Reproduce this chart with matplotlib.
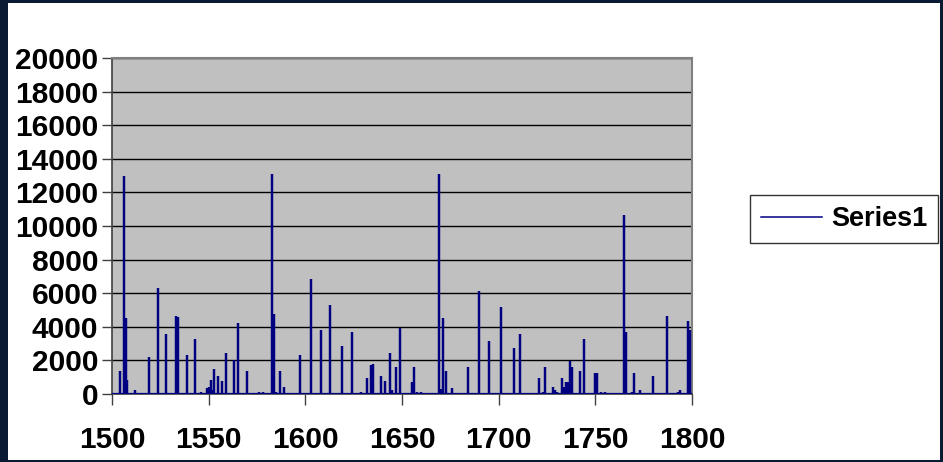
import numpy as np
import matplotlib
matplotlib.use("Agg")
import matplotlib.pyplot as plt
from matplotlib.patches import Rectangle

# Yearly counts; years not listed are zero
start_year, end_year = 1500, 1800
event_years = [
    1504, 1506, 1507, 1508, 1512, 1519, 1524, 1528, 1533, 1534, 1539, 1543,
    1546, 1549, 1550, 1551, 1552, 1553, 1555, 1557, 1559, 1563, 1565, 1570,
    1576, 1578, 1583, 1584, 1585, 1587, 1589, 1597, 1603, 1608, 1613, 1619,
    1624, 1629, 1632, 1634, 1635, 1639, 1641, 1644, 1645, 1647, 1649, 1655,
    1656, 1658, 1660, 1669, 1670, 1671, 1673, 1676, 1684, 1690, 1695, 1701,
    1708, 1711, 1721, 1723, 1724, 1728, 1729, 1730, 1733, 1734, 1735, 1736,
    1737, 1738, 1742, 1744, 1750, 1751, 1753, 1755, 1765, 1766, 1769, 1770,
    1773, 1780, 1787, 1793, 1794, 1798, 1799,
]
event_values = [
    1350, 13000, 4500, 830, 260, 2180, 6280, 3560, 4650, 4600, 2340, 3290,
    140, 360, 400, 830, 240, 1490, 1090, 790, 2450, 2020, 4220, 1350,
    140, 140, 13100, 4750, 140, 1350, 400, 2320, 6830, 3800, 5300, 2870,
    3680, 140, 950, 1740, 1780, 1090, 790, 2450, 240, 1620, 3930, 700,
    1620, 140, 140, 13100, 300, 4500, 1350, 360, 1620, 6140, 3130, 5190,
    2730, 3560, 950, 140, 1620, 440, 240, 140, 950, 400, 690, 700,
    1980, 1580, 1350, 3270, 1230, 1230, 140, 140, 10650, 3680, 140, 1230,
    240, 1090, 4650, 140, 240, 4350, 3820,
]

# One continuous trace along the baseline that rises to each yearly value
trace_x = [start_year]
trace_y = [0]
for yr, val in zip(event_years, event_values):
    trace_x += [yr, yr, yr]
    trace_y += [0, val, 0]
trace_x.append(end_year)
trace_y.append(0)

y_ticks = np.arange(0, 20001, 2000)
x_ticks = np.arange(start_year, end_year + 1, 50)

plt.rcParams["font.family"] = ["Liberation Sans", "DejaVu Sans"]
FS = 21.5

fig = plt.figure(figsize=(9.43, 4.62), dpi=100)
fig.patch.set_facecolor("white")

ax = fig.add_axes([112 / 943, 68 / 462, 580 / 943, 336 / 462])
ax.set_facecolor("#c0c0c0")
ax.plot(trace_x, trace_y, color="#000080", lw=1.6, label="Series1", zorder=3,
        solid_joinstyle="miter")

ax.set_xlim(start_year, end_year)
ax.set_ylim(0, 20000)
ax.set_yticks(y_ticks)
ax.set_xticks(x_ticks)
ax.set_yticklabels([str(t) for t in y_ticks], fontsize=FS, fontweight="bold")
ax.set_xticklabels([str(t) for t in x_ticks], fontsize=FS, fontweight="bold")
ax.tick_params(axis="y", direction="out", length=7, width=1, pad=3, colors="#404040",
               labelcolor="black")
ax.tick_params(axis="x", direction="out", length=8, width=1, pad=15, colors="#404040",
               labelcolor="black")
ax.grid(axis="y", color="black", lw=1)
ax.set_axisbelow(True)
for side in ["left", "bottom"]:
    ax.spines[side].set_color("#404040")
    ax.spines[side].set_linewidth(1.2)
for side in ["right", "top"]:
    ax.spines[side].set_color("#808080")
    ax.spines[side].set_linewidth(1.5)

leg = fig.legend(loc="center left", bbox_to_anchor=(750 / 943, 1 - 219 / 462),
                 borderaxespad=0, frameon=True, fancybox=False, edgecolor="black",
                 prop={"size": 19.5, "weight": "bold"}, handlelength=2.25,
                 borderpad=0.4, handletextpad=0.35)
leg.get_frame().set_linewidth(1)
leg.get_lines()[0].set_linewidth(1.1)

# dark frame round the figure, heavier on the left
frame = "#0b1a33"
fig.add_artist(Rectangle((0, 0), 8 / 943, 1, transform=fig.transFigure,
                         color=frame, lw=0))
fig.add_artist(Rectangle((0, 1 - 3 / 462), 1, 3 / 462, transform=fig.transFigure,
                         color=frame, lw=0))
fig.add_artist(Rectangle((1 - 3 / 943, 0), 3 / 943, 1, transform=fig.transFigure,
                         color=frame, lw=0))
fig.add_artist(Rectangle((0, 0), 1, 2 / 462, transform=fig.transFigure,
                         color=frame, lw=0))

fig.savefig("out.png", dpi=100, facecolor="white")
